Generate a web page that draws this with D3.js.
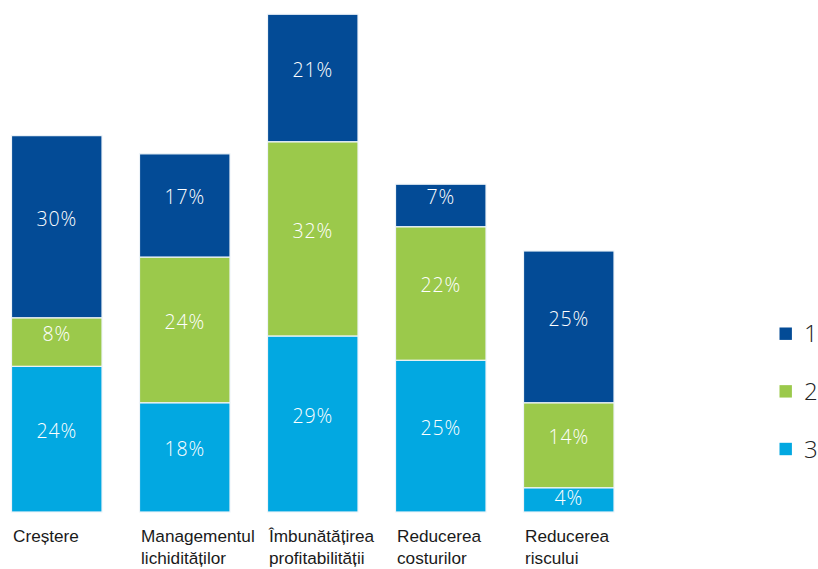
<!DOCTYPE html>
<html>
<head>
<meta charset="utf-8">
<script src="https://cdn.jsdelivr.net/npm/d3@7"></script>
<style>
  html, body { margin: 0; padding: 0; background: #fff; }
  svg { display: block; }
</style>
</head>
<body>
<svg id="chart" width="818" height="569"></svg>
<script>
// Categories (one label per line) and the three stacked series, in percent
const categories = ["Creștere", "Managementul lichidităților", "Îmbunătățirea profitabilității", "Reducerea costurilor", "Reducerea riscului"];
const categoryLines = [["Creștere"], ["Managementul", "lichidităților"], ["Îmbunătățirea", "profitabilității"], ["Reducerea", "costurilor"], ["Reducerea", "riscului"]];
const seriesNames = ["1", "2", "3"];
const series1 = [30, 17, 21, 7, 25];
const series2 = [8, 24, 32, 22, 14];
const series3 = [24, 18, 29, 25, 4];
const colors = ["#034b96", "#9bc94b", "#02a8e1"];

const svg = d3.select("#chart");

const x = d3.scaleBand()
  .domain(categories)
  .range([11.5, 614])
  .paddingInner(0.293)
  .paddingOuter(0);

const y = d3.scaleLinear()
  .domain([0, 84])
  .range([512, 2.1]);

// Build stack rows: series 3 at the bottom, then 2, then 1 on top
const rows = categories.map((c, i) => ({ cat: c, s1: series1[i], s2: series2[i], s3: series3[i] }));
const stack = d3.stack().keys(["s3", "s2", "s1"]);
const layers = stack(rows);
const colorByKey = { s1: colors[0], s2: colors[1], s3: colors[2] };

const g = svg.append("g");

layers.forEach(layer => {
  const lg = g.append("g");
  lg.selectAll("rect")
    .data(layer)
    .join("rect")
    .attr("x", d => x(d.data.cat))
    .attr("width", x.bandwidth())
    .attr("y", d => y(d[1]))
    .attr("height", d => y(d[0]) - y(d[1]))
    .attr("fill", colorByKey[layer.key])
    .attr("stroke", "#eef4f8")
    .attr("stroke-width", 1.2);

  lg.selectAll("text")
    .data(layer)
    .join("text")
    .attr("x", d => x(d.data.cat) + x.bandwidth() / 2)
    .attr("y", d => {
      const mid = (y(d[0]) + y(d[1])) / 2;
      const h = y(d[0]) - y(d[1]);
      return mid - Math.min(8, Math.max(0, (h - 20) / 2)) + 7;
    })
    .attr("text-anchor", "middle")
    .attr("fill", "#ffffff")
    .attr("font-family", "'Open Sans', sans-serif")
    .attr("font-weight", 300)
    .attr("font-size", 19.5)
    .attr("letter-spacing", 0.9)
    .text(d => (d[1] - d[0]) + "%");
});

// Category labels under the bars, left aligned with each bar
const labels = svg.append("g")
  .attr("font-family", "'Liberation Sans', Arial, sans-serif")
  .attr("font-size", 17.2)
  .attr("fill", "#1a1a1a");

categories.forEach((c, i) => {
  const t = labels.append("text")
    .attr("x", x(c) + 1.5)
    .attr("y", 541.5);
  categoryLines[i].forEach((line, j) => {
    t.append("tspan")
      .attr("x", x(c) + 1.5)
      .attr("dy", j === 0 ? 0 : 22.6)
      .text(line);
  });
});

// Legend
const legendY = d3.scalePoint().domain(seriesNames).range([333.7, 449]);
const legend = svg.append("g");
seriesNames.forEach((name, i) => {
  legend.append("rect")
    .attr("x", 779.5)
    .attr("y", legendY(name) - 6.2)
    .attr("width", 12.4)
    .attr("height", 12.4)
    .attr("fill", colors[i]);
  legend.append("text")
    .attr("x", 804)
    .attr("y", legendY(name) + 8.5)
    .attr("font-family", "'Open Sans', sans-serif")
    .attr("font-weight", 300)
    .attr("font-size", 24)
    .attr("fill", "#222")
    .text(name);
});
</script>
</body>
</html>
